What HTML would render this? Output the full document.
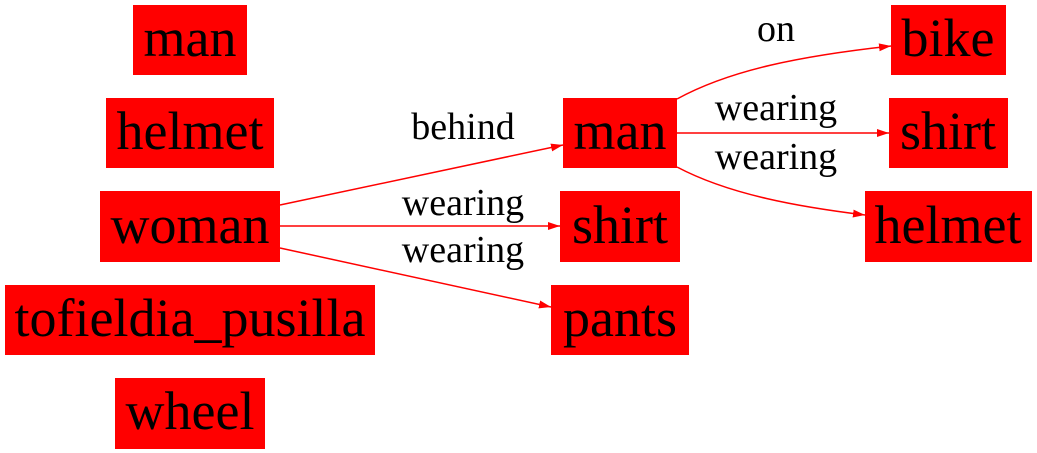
<!DOCTYPE html>
<html><head><style>
html,body{margin:0;padding:0;background:#fff;width:1037px;height:453px;overflow:hidden}
svg text{font-family:"Liberation Serif",serif;fill:#000}
</style></head><body>
<svg width="1037" height="453" viewBox="0 0 1037 453" xmlns="http://www.w3.org/2000/svg">
<defs><marker id="a" markerWidth="12" markerHeight="8" refX="12" refY="4" orient="auto" markerUnits="userSpaceOnUse"><path d="M0,0 L12,4 L0,8 z" fill="#f00"/></marker></defs>
<g fill="#f00">
<rect x="133" y="5" width="114" height="70"/>
<rect x="106" y="98" width="168" height="70"/>
<rect x="100" y="191" width="180" height="71"/>
<rect x="5" y="285" width="370" height="70"/>
<rect x="115" y="378" width="150" height="71"/>
<rect x="563" y="98" width="114" height="70"/>
<rect x="560" y="191" width="120" height="71"/>
<rect x="551" y="285" width="138" height="70"/>
<rect x="891" y="5" width="115" height="70"/>
<rect x="889" y="98" width="119" height="70"/>
<rect x="865" y="191" width="167" height="71"/>
</g>
<g fill="none" stroke="#f00" stroke-width="1.5">
<path d="M280,205 L563,145" marker-end="url(#a)"/>
<path d="M280,226 L560,226" marker-end="url(#a)"/>
<path d="M280,248 L551,307" marker-end="url(#a)"/>
<path d="M677,99 C730,70 800,56 891,46" marker-end="url(#a)"/>
<path d="M677,133 L889,133" marker-end="url(#a)"/>
<path d="M677,167 C730,195 800,207 865,215" marker-end="url(#a)"/>
</g>
<g font-size="54" text-anchor="middle">
<text x="190" y="56">man</text>
<text x="190" y="149">helmet</text>
<text x="190" y="243">woman</text>
<text x="190" y="336">tofieldia_pusilla</text>
<text x="190" y="429">wheel</text>
<text x="620" y="149">man</text>
<text x="620" y="243">shirt</text>
<text x="620" y="336">pants</text>
<text x="948" y="56">bike</text>
<text x="948" y="149">shirt</text>
<text x="948" y="243">helmet</text>
</g>
<g font-size="38" text-anchor="middle">
<text x="463" y="139">behind</text>
<text x="463" y="215">wearing</text>
<text x="463" y="262">wearing</text>
<text x="776" y="41">on</text>
<text x="776" y="120">wearing</text>
<text x="776" y="169">wearing</text>
</g>
</svg>
</body></html>
